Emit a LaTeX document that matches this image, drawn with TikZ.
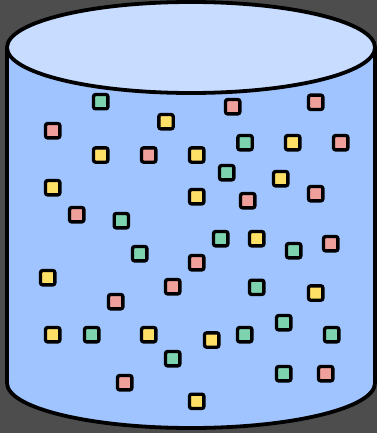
\documentclass[tikz,border=0pt]{standalone}
\definecolor{bg}{HTML}{4D4D4D}
\definecolor{body}{HTML}{A0C4FF}
\definecolor{topc}{HTML}{C7DCFF}
\definecolor{sqg}{HTML}{7DD3AE}
\definecolor{sqp}{HTML}{F0A09A}
\definecolor{sqy}{HTML}{FFE066}
\tikzset{
  sq/.style={draw=black, line width=3.3pt, rounded corners=2pt, minimum size=14.3pt, inner sep=0pt, outer sep=0pt},
  sqG/.style={sq, fill=sqg},
  sqP/.style={sq, fill=sqp},
  sqY/.style={sq, fill=sqy},
}
\begin{document}
\begin{tikzpicture}[x=1pt,y=-1pt]
\useasboundingbox (0,0) rectangle (377,433);
\fill[bg] (0,0) rectangle (377,433);
% cylinder body
\draw[fill=body, line width=3.8pt, line join=round]
  (7,47.5) -- (7,383) arc[start angle=180, end angle=360, x radius=184pt, y radius=45pt] -- (375,47.5) -- cycle;
% top ellipse
\draw[fill=topc, line width=3.8pt] (191,47.5) ellipse[x radius=184pt, y radius=45.5pt];
% squares
\node[sqG] (s1) at (100.7,101.7) {};
\node[sqP] (s2) at (232.7,106.7) {};
\node[sqP] (s3) at (315.7,102.3) {};
\node[sqY] (s4) at (166,121.7) {};
\node[sqP] (s5) at (52.7,130.7) {};
\node[sqG] (s6) at (245,142.7) {};
\node[sqY] (s7) at (292.7,142.7) {};
\node[sqP] (s8) at (340.7,142.7) {};
\node[sqY] (s9) at (100.7,155) {};
\node[sqP] (s10) at (148.7,155) {};
\node[sqY] (s11) at (196.7,155) {};
\node[sqG] (s12) at (226.7,172.7) {};
\node[sqY] (s13) at (280.7,178.7) {};
\node[sqY] (s14) at (52.7,187.7) {};
\node[sqY] (s15) at (196.7,196.7) {};
\node[sqP] (s16) at (247.7,200.7) {};
\node[sqP] (s17) at (315.7,193.7) {};
\node[sqP] (s18) at (76.7,214.7) {};
\node[sqG] (s19) at (121.3,220.7) {};
\node[sqG] (s20) at (220.7,238.7) {};
\node[sqY] (s21) at (256.7,238.7) {};
\node[sqG] (s22) at (293.7,250.7) {};
\node[sqP] (s23) at (330.7,243.7) {};
\node[sqG] (s24) at (139.7,253.7) {};
\node[sqP] (s25) at (196.7,262.7) {};
\node[sqY] (s26) at (47.7,277.7) {};
\node[sqP] (s27) at (172.7,286.7) {};
\node[sqG] (s28) at (256.7,287.3) {};
\node[sqY] (s29) at (315.7,293) {};
\node[sqP] (s30) at (115.7,301.7) {};
\node[sqY] (s31) at (52.7,334.7) {};
\node[sqG] (s32) at (91.7,334.7) {};
\node[sqY] (s33) at (148.7,334.7) {};
\node[sqY] (s34) at (211.7,340) {};
\node[sqG] (s35) at (244.7,334.7) {};
\node[sqG] (s36) at (283.7,322.7) {};
\node[sqG] (s37) at (331.7,334.7) {};
\node[sqG] (s38) at (172.7,358.7) {};
\node[sqP] (s39) at (124.7,382.7) {};
\node[sqG] (s40) at (283.7,373.7) {};
\node[sqP] (s41) at (325.7,373.7) {};
\node[sqY] (s42) at (196.7,401.3) {};
\end{tikzpicture}
\end{document}
